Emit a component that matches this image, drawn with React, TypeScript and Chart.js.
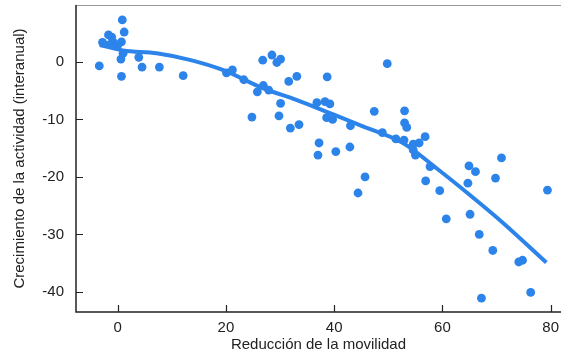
import React, { useEffect, useRef } from "react";
import { Chart, registerables } from "chart.js";

Chart.register(...registerables);

// Scatter observations: mobility reduction (x) and activity growth (y)
const movilidad = [
  0.85, 1.2, -1.7, -1.1, -2.8, -0.8, 0.7, 1.0, 0.6, 3.9, -3.4, 4.5, 7.7, 0.7, 12.1, 20.1, 21.2, -1.5, 0.0,
  23.3, 26.8, 28.5, 29.4, 30.1, 26.9, 25.8, 27.9, 31.6, 33.1, 38.7, 49.8, 30.1, 24.8, 29.8, 31.9, 33.5,
  36.8, 38.3, 39.2, 38.6, 39.7, 43.0, 47.4, 48.9, 51.4, 37.2, 37.0, 40.3, 42.9, 45.7, 44.4,
  53.0, 53.0, 53.4, 52.9, 54.6, 55.7, 56.8, 54.6, 55.0, 57.7, 56.9, 59.5, 64.9, 66.1, 64.7, 69.8, 70.9,
  79.4, 60.7, 65.1, 66.8, 69.3, 74.1, 74.8, 67.2, 76.3,
];
const actividad = [
  7.3, 5.2, 4.7, 4.3, 3.4, 3.4, 3.5, 1.5, 0.5, 0.8, -0.7, -0.9, -0.9, -2.5, -2.4, -1.9, -1.4, 3.0, 2.9,
  -3.1, 0.3, 1.2, -0.1, 0.5, -4.1, -5.2, -4.9, -3.4, -2.5, -2.6, -0.3, -7.2, -9.6, -9.4, -11.5, -10.9,
  -7.1, -6.9, -7.3, -9.7, -10.0, -11.1, -8.6, -12.3, -13.4, -14.1, -16.2, -15.6, -14.8, -20.0, -22.8,
  -8.5, -10.6, -11.4, -13.6, -14.3, -14.1, -13.0, -15.3, -16.2, -18.2, -20.7, -22.4, -18.1, -19.1, -21.1, -20.2, -16.7,
  -22.3, -27.3, -26.5, -30.0, -32.8, -34.8, -34.5, -41.1, -40.1,
];

// Fitted curve
const ajusteX = [-3.3, 1.0, 7.2, 13.3, 19.4, 26.9, 33.0, 39.2, 45.3, 52.7, 58.9, 65.0, 71.2, 79.2];
const ajusteY = [2.95, 2.0, 1.5, 0.35, -1.4, -4.6, -6.6, -8.9, -11.2, -14.1, -18.5, -23.1, -28.0, -34.9];

const xTicks = [0, 20, 40, 60, 80];
const yTicks = [-40, -30, -20, -10, 0];

const xTitle = "Reducción de la movilidad";
const yTitle = "Crecimiento de la actividad (interanual)";

const BLUE = "rgb(44,132,234)";
const TEXT = "#222222";
const FONT = "'Liberation Sans', Arial, sans-serif";

const framePlugin = {
  id: "frame",
  afterDraw(chart: any) {
    const { ctx, chartArea, scales } = chart;
    const { left, right, top, bottom } = chartArea;
    ctx.save();
    // top gray border
    ctx.strokeStyle = "#9a9a9a";
    ctx.lineWidth = 1;
    ctx.beginPath();
    ctx.moveTo(left, top + 0.5);
    ctx.lineTo(right, top + 0.5);
    ctx.stroke();
    // axes
    ctx.strokeStyle = "#222222";
    ctx.lineWidth = 1.5;
    ctx.beginPath();
    ctx.moveTo(left, top);
    ctx.lineTo(left, bottom);
    ctx.lineTo(right, bottom);
    ctx.stroke();
    ctx.lineWidth = 1.2;
    ctx.beginPath();
    for (const v of xTicks) {
      const x = Math.round(scales.x.getPixelForValue(v)) + 0.5;
      ctx.moveTo(x, bottom);
      ctx.lineTo(x, bottom - 7);
    }
    for (const v of yTicks) {
      const y = Math.round(scales.y.getPixelForValue(v)) + 0.5;
      ctx.moveTo(left, y);
      ctx.lineTo(left + 7, y);
    }
    ctx.stroke();
    ctx.restore();
  },
};

const zeroPad = (s: any) => {
  s.paddingTop = 0;
  s.paddingBottom = 0;
  s.paddingLeft = 0;
  s.paddingRight = 0;
};

export default function App() {
  const ref = useRef<HTMLCanvasElement | null>(null);

  useEffect(() => {
    document.body.style.margin = "0";
    const canvas = ref.current;
    if (!canvas) return;
    const chart = new Chart(canvas, {
      type: "scatter",
      data: {
        datasets: [
          {
            type: "line",
            data: ajusteX.map((x, i) => ({ x, y: ajusteY[i] })),
            borderColor: BLUE,
            borderWidth: 4,
            pointRadius: 0,
            tension: 0.4,
            cubicInterpolationMode: "monotone",
            fill: false,
            order: 1,
          } as any,
          {
            type: "scatter",
            data: movilidad.map((x, i) => ({ x, y: actividad[i] })),
            backgroundColor: BLUE,
            borderWidth: 0,
            pointRadius: 4.4,
            order: 2,
          },
        ],
      },
      options: {
        animation: false,
        responsive: false,
        layout: { autoPadding: false, padding: { top: 5, right: 1, left: 0, bottom: 0 } },
        plugins: { legend: { display: false }, tooltip: { enabled: false } },
        scales: {
          x: {
            type: "linear",
            min: -7.7,
            max: 81.9,
            grid: { display: false, drawTicks: false },
            border: { display: false },
            afterBuildTicks: (s: any) => {
              s.ticks = xTicks.map((v) => ({ value: v }));
            },
            afterFit: (s: any) => {
              s.height = 44;
              zeroPad(s);
            },
            ticks: {
              padding: 7,
              maxRotation: 0,
              color: TEXT,
              font: { family: FONT, size: 15 },
            },
            title: {
              display: true,
              text: xTitle,
              color: TEXT,
              font: { family: FONT, size: 15 },
              padding: { top: 0, bottom: 2 },
            },
          },
          y: {
            type: "linear",
            min: -43.5,
            max: 9.9,
            grid: { display: false, drawTicks: false },
            border: { display: false },
            afterBuildTicks: (s: any) => {
              s.ticks = yTicks.map((v) => ({ value: v }));
            },
            afterFit: (s: any) => {
              s.width = 76;
              zeroPad(s);
            },
            ticks: {
              padding: 12,
              color: TEXT,
              font: { family: FONT, size: 15 },
            },
            title: {
              display: true,
              text: yTitle,
              color: TEXT,
              font: { family: FONT, size: 15 },
              padding: { top: 11, bottom: 0 },
            },
          },
        },
      },
      plugins: [framePlugin],
    });
    return () => chart.destroy();
  }, []);

  return (
    <div style={{ width: 562, height: 356 }}>
      <canvas ref={ref} width={562} height={356} style={{ display: "block" }} />
    </div>
  );
}
